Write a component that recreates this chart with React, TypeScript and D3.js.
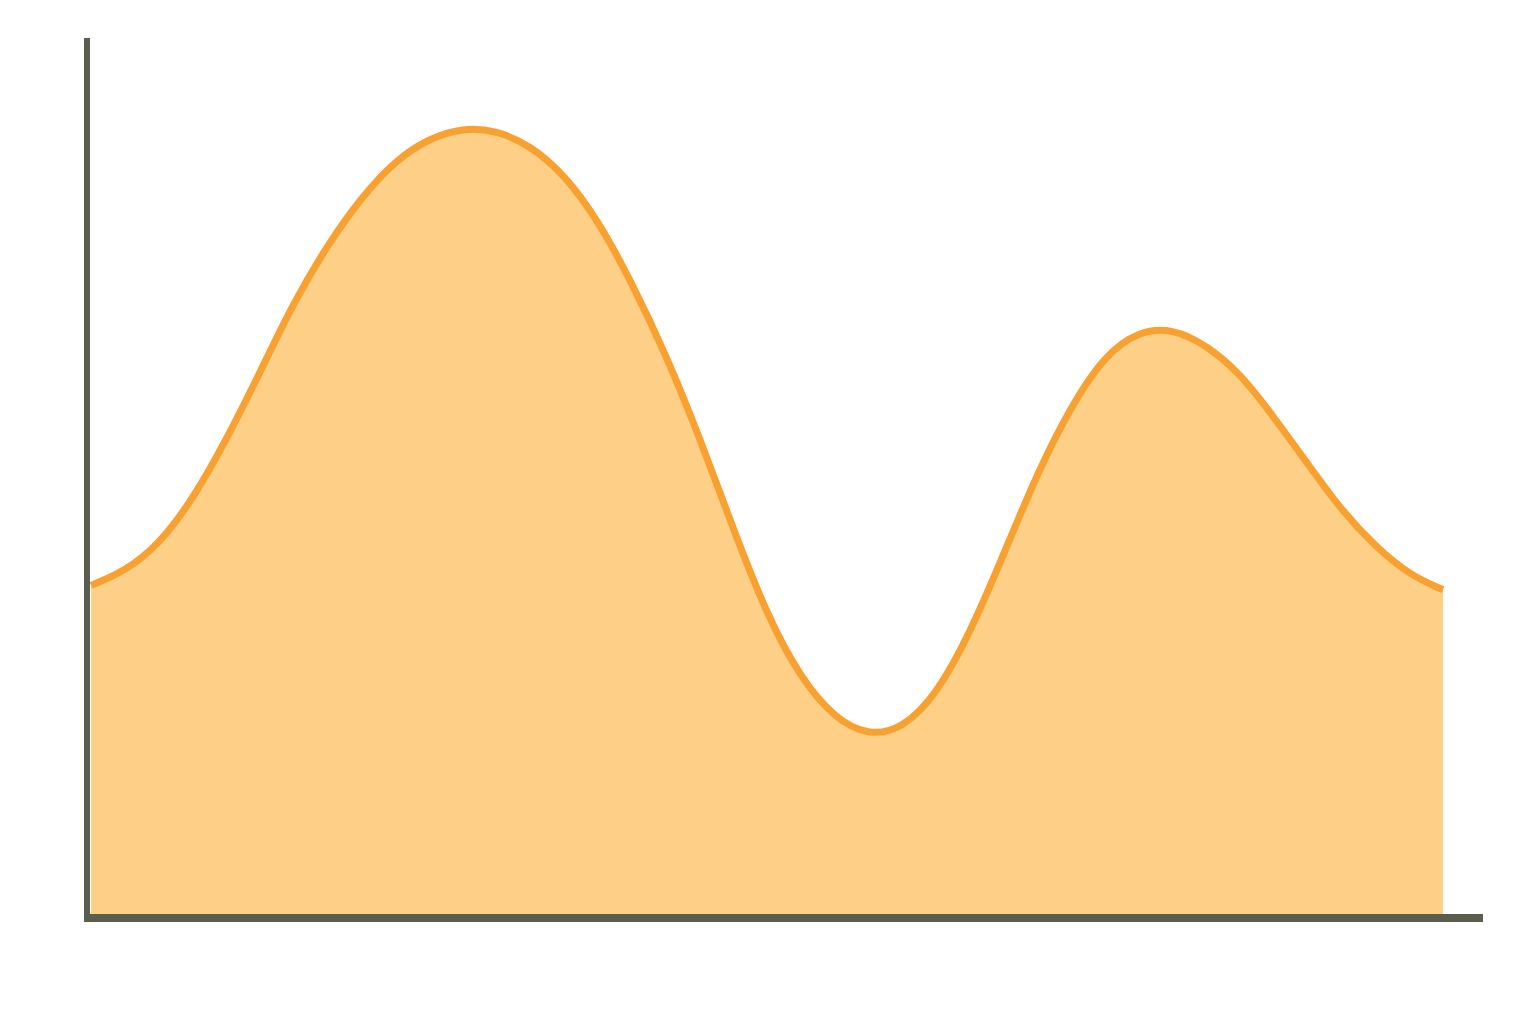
import React from "react";
import * as d3 from "d3";

// curve height (0-100) read at 41 evenly spaced positions along the x axis
const xs = d3.range(0, 41);
const values = [
  37.8, 39.4, 42.4, 47.5, 54.3, 62.0, 70.0, 76.5, 81.9, 86.1,
  88.6, 89.8, 89.5, 87.8, 84.5, 79.3, 72.2, 64.1, 54.7, 44.2,
  34.4, 27.2, 22.7, 20.7, 21.5, 25.3, 32.3, 41.3, 50.6, 58.2,
  64.0, 66.7, 67.0, 65.1, 61.9, 56.9, 51.6, 46.3, 42.2, 39.0,
  37.3,
];

const width = 1536;
const height = 1024;
const axisColor = "#5b5d4f";

const App: React.FC = () => {
  const x = d3.scaleLinear().domain([0, 40]).range([91, 1443]);
  const y = d3.scaleLinear().domain([0, 100]).range([918, 38]);

  const points: [number, number][] = xs.map((d, i) => [d, values[i]]);

  const area = d3
    .area<[number, number]>()
    .x(d => x(d[0]))
    .y0(y(0))
    .y1(d => y(d[1]))
    .curve(d3.curveBasis);

  const line = d3
    .line<[number, number]>()
    .x(d => x(d[0]))
    .y(d => y(d[1]))
    .curve(d3.curveBasis);

  return (
    <svg
      width={width}
      height={height}
      style={{ position: "absolute", left: 0, top: 0, display: "block", background: "#fff" }}
    >
      <path d={area(points) || ""} fill="#fdcf87" />
      <path d={line(points) || ""} fill="none" stroke="#f8a131" strokeWidth={7} />
      <line x1={87} x2={87} y1={y(100)} y2={922} stroke={axisColor} strokeWidth={6} />
      <line x1={84} x2={1483} y1={918} y2={918} stroke={axisColor} strokeWidth={8} />
    </svg>
  );
};

export default App;
